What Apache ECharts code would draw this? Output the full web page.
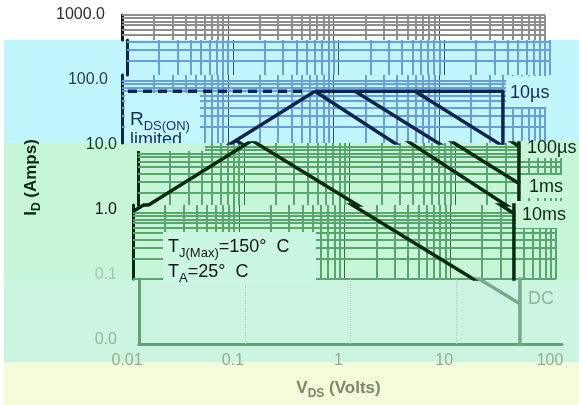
<!DOCTYPE html>
<html>
<head>
<meta charset="utf-8">
<script src="https://cdn.jsdelivr.net/npm/echarts@6/dist/echarts.min.js"></script>
<style>
html,body{margin:0;padding:0;background:#fff;}
#chart{width:579px;height:405px;}
</style>
</head>
<body>
<div id="chart"></div>
<script>
// axis ticks
var xTicks = [0.01, 0.1, 1, 10, 100];
var xTickLabels = ['0.01', '0.1', '1', '10', '100'];
var yTicks = [0.01, 0.1, 1, 10, 100, 1000];
var yTickLabels = ['0.0', '0.1', '1.0', '10.0', '100.0', '1000.0'];
var minorSteps = [2, 3, 4, 5, 6, 7, 8, 9];

// SOA curves, [VDS (V), ID (A)]
var rdsLimit = [[0.01, 1.05], [0.668, 70]];
var rdsDashed = [[0.0114, 70], [0.52, 70]];
var line10us = [[0.668, 70], [40, 70], [40, 10.3]];
var line100us = [[5.9, 70], [40, 10.3], [40, 2.8]];
var line1ms = [[1.6, 70], [40, 2.8], [40, 0.98]];
var line10ms = [[0.668, 70], [40, 0.98], [40, 0.042]];
var lineDC = [[0.12, 12.5], [40, 0.042], [40, 0.01]];

var FONT = '"Liberation Sans", Arial, sans-serif';
var Y_TOP = 15, PX_DEC = 66, X_W = 423;

function yAt(py) { return Math.pow(10, 3 - (py - Y_TOP) / PX_DEC); }

// horizontal strips of the picture, each its own grid
var bands = [
  {top: 15,  bottom: 40,  left: 122, minor: '#8e8e8e', major: '#4d4d4d', axis: '#141414', curve: '#141414'},
  {top: 40,  bottom: 75,  left: 127, minor: '#6a9ed8', major: '#2e4f7d', axis: '#0c2550', curve: '#0c2550'},
  {top: 75,  bottom: 143, left: 122, minor: '#6a9ed8', major: '#2e4f7d', axis: '#0c2550', curve: '#0c2550'},
  {top: 143, bottom: 205, left: 138, minor: '#58a66c', major: '#2f6b3e', axis: '#062a10', curve: '#062a10'},
  {top: 205, bottom: 279, left: 133, minor: '#58a66c', major: '#2f6b3e', axis: '#062a10', curve: '#062a10'},
  {top: 279, bottom: 344, left: 139, minor: null, major: '#a4d8b3', axis: '#64a275', curve: '#76ab86', faint: true}
];

var curves = [
  {data: rdsLimit}, {data: rdsDashed, dashed: true}, {data: line10us},
  {data: line100us}, {data: line1ms}, {data: line10ms}, {data: lineDC}
];

function gridValues(decades) {
  var out = [];
  for (var i = 0; i < decades.length - 1; i++)
    for (var k = 0; k < minorSteps.length; k++) out.push(+(decades[i] * minorSteps[k]).toPrecision(6));
  return out;
}
var xMinor = gridValues(xTicks);
var xMajor = xTicks.slice(1, 4);
var yAll = gridValues(yTicks).concat(yTicks);

var grids = [], xAxes = [], yAxes = [], series = [];

bands.forEach(function (b, i) {
  var yMax = yAt(b.top), yMin = yAt(b.bottom);
  grids.push({left: b.left, top: b.top, width: X_W, height: b.bottom - b.top});
  xAxes.push({
    type: 'log', gridIndex: i, min: 0.01, max: 100,
    axisLine: {show: !!b.faint, onZero: false, lineStyle: {color: b.axis, width: 3}},
    axisTick: {show: false}, axisLabel: {show: false}, splitLine: {show: false}
  });
  yAxes.push({
    type: 'log', gridIndex: i, min: yMin, max: yMax,
    axisLine: {show: true, lineStyle: {color: b.axis, width: 3}},
    axisTick: {show: false}, axisLabel: {show: false}, splitLine: {show: false}
  });

  var ml = [];
  if (b.faint) {
    xMajor.forEach(function (v) {
      ml.push({xAxis: v, lineStyle: {color: b.major, width: 1, type: 'dotted'}});
    });
  } else {
    xMinor.forEach(function (v) {
      ml.push({xAxis: v, lineStyle: {color: b.minor, width: 2, type: 'solid'}});
    });
    ml.push({xAxis: 100, lineStyle: {color: b.minor, width: 2, type: 'solid'}});
    xMajor.forEach(function (v) {
      ml.push({xAxis: v, lineStyle: {color: b.major, width: 1, type: 'solid'}});
    });
    yAll.forEach(function (v) {
      if (v >= yMin * 0.999 && v <= yMax * 1.001)
        ml.push({yAxis: v, lineStyle: {color: b.minor, width: 2, type: 'solid'}});
    });
  }
  series.push({
    type: 'line', xAxisIndex: i, yAxisIndex: i, data: [[0.01, yMin]], symbol: 'none',
    lineStyle: {width: 0}, silent: true, z: 1, animation: false,
    markLine: {silent: true, z: 1, symbol: ['none', 'none'], label: {show: false}, animation: false, data: ml}
  });

  curves.forEach(function (c) {
    series.push({
      type: 'line', xAxisIndex: i, yAxisIndex: i, data: c.data, symbol: 'none',
      silent: true, z: 3, clip: true, animation: false,
      lineStyle: {color: b.curve, width: 3.5, type: c.dashed ? [9, 6] : 'solid'}
    });
  });
});

// axis labels and names on a grid covering the whole plot
var yLabelColors = ['#8cb897', '#a6c4ae', '#161616', '#17361d', '#2a3b56', '#2e2e2e'];
var yLabelPad = [0, 0, 0, 0, 9, 12];
var yRich = {};
yTicks.forEach(function (t, k) {
  yRich['l' + k] = {color: yLabelColors[k], fontSize: 16, fontFamily: FONT, padding: [0, yLabelPad[k], 0, 0]};
});
var L = bands.length;
grids.push({left: 127, top: 15, width: X_W, height: 330});
xAxes.push({
  type: 'log', gridIndex: L, min: 0.01, max: 100,
  axisLine: {show: false}, axisTick: {show: false}, splitLine: {show: false},
  axisLabel: {
    margin: 13, color: '#97a98f', fontSize: 16, fontFamily: FONT,
    formatter: function (v) { return xTickLabels[Math.round(Math.log10(v)) + 2]; }
  },
  name: '{m|V}{s|DS}{m| (Volts)}', nameLocation: 'middle', nameGap: 36,
  nameTextStyle: {
    rich: {
      m: {fontSize: 17, fontWeight: 'bold', fontFamily: FONT, color: '#7b876f', lineHeight: 24, verticalAlign: 'middle'},
      s: {fontSize: 12, fontWeight: 'bold', fontFamily: FONT, color: '#7b876f', lineHeight: 12, verticalAlign: 'bottom'}
    }
  }
});
yAxes.push({
  type: 'log', gridIndex: L, min: 0.01, max: 1000,
  axisLine: {show: false}, axisTick: {show: false}, splitLine: {show: false},
  axisLabel: {
    margin: 10,
    formatter: function (v) {
      var k = Math.round(Math.log10(v)) + 2;
      return '{l' + k + '|' + yTickLabels[k] + '}';
    },
    rich: yRich
  },
  name: '{m|I}{s|D}{m| (Amps)}', nameLocation: 'middle', nameGap: 84,
  nameTextStyle: {
    rich: {
      m: {fontSize: 17, fontWeight: 'bold', fontFamily: FONT, color: '#0a2a12', lineHeight: 24, verticalAlign: 'middle'},
      s: {fontSize: 12, fontWeight: 'bold', fontFamily: FONT, color: '#0a2a12', lineHeight: 12, verticalAlign: 'bottom'}
    }
  }
});

function rect(x, y, w, h, fill, z) {
  return {type: 'rect', z: z, silent: true, shape: {x: x, y: y, width: w, height: h}, style: {fill: fill}};
}
function text(x, y, str, color, size, z) {
  return {
    type: 'text', z: z, silent: true, x: x, y: y,
    style: {text: str, fill: color, font: size + 'px ' + FONT, textAlign: 'left', align: 'left',
      textVerticalAlign: 'middle', verticalAlign: 'middle'}
  };
}
function subText(x, y, parts, color, size, subSize, z) {
  var s = '';
  parts.forEach(function (p, k) { s += (k % 2 ? '{b|' : '{a|') + p + '}'; });
  return {
    type: 'text', z: z, silent: true, x: x, y: y,
    style: {
      text: s, textAlign: 'left', align: 'left', textVerticalAlign: 'top', verticalAlign: 'top',
      rich: {
        a: {fontSize: size, fontFamily: FONT, fill: color, color: color, lineHeight: 26, verticalAlign: 'middle'},
        b: {fontSize: subSize, fontFamily: FONT, fill: color, color: color, lineHeight: 12, verticalAlign: 'bottom'}
      }
    }
  };
}

var cyan = '#c1f6fd', green = '#c6f5d7', mint = '#cbf5e0', yellow = '#f4fbd9';
var graphics = [
  rect(4, 40, 575, 103, cyan, 0),
  rect(4, 143, 575, 136, green, 0),
  rect(4, 279, 575, 83, mint, 0),
  rect(4, 362, 575, 43, yellow, 0),
  // text boxes over the grid
  rect(125, 93, 75, 50, '#c3f7fd', 5),
  rect(163, 232, 153, 52, '#c9f7e1', 5),
  rect(506, 76, 73, 31, cyan, 5),
  rect(521, 141, 58, 17, green, 5),
  rect(521, 175, 58, 23, green, 5),
  rect(516, 201, 63, 27, green, 5),
  subText(130, 107, ['R', 'DS(ON)'], '#14305a', 19, 13, 6),
  text(130, 140, 'limited', '#14305a', 18, 6),
  rect(125, 143, 80, 8, green, 7),
  subText(168, 234, ['T', 'J(Max)', '=150°  C'], '#161616', 18, 13, 6),
  subText(168, 259, ['T', 'A', '=25°  C'], '#161616', 18, 13, 6),
  text(510, 93, '10µs', '#13294d', 18, 6),
  text(527, 148, '100µs', '#0e2614', 18, 6),
  text(529, 187, '1ms', '#0e2614', 18, 6),
  text(522, 215, '10ms', '#0e2614', 18, 6),
  text(528, 299, 'DC', '#8ab796', 18, 6)
];

var chart = echarts.init(document.getElementById('chart'));
chart.setOption({
  backgroundColor: '#ffffff',
  animation: false,
  grid: grids,
  xAxis: xAxes,
  yAxis: yAxes,
  graphic: graphics,
  series: series
});
</script>
</body>
</html>
